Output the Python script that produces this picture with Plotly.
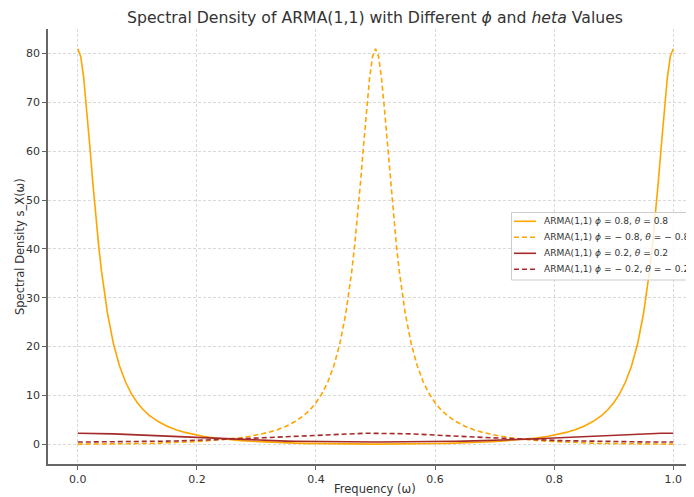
import plotly.graph_objects as go

# Frequency grid (ω)
freq = [0.0, 0.005, 0.01, 0.015, 0.02, 0.025, 0.03, 0.035, 0.04, 0.045, 0.05, 0.06, 0.07, 0.08, 0.09,
        0.10, 0.11, 0.12, 0.135, 0.15, 0.165, 0.18, 0.195, 0.21, 0.23, 0.25,
        0.27, 0.29, 0.305, 0.32, 0.335, 0.35, 0.365, 0.38, 0.39, 0.40, 0.41, 0.42, 0.43, 0.44, 0.45,
        0.455, 0.46, 0.465, 0.47, 0.475, 0.48, 0.485, 0.49, 0.495, 0.50,
        0.505, 0.51, 0.515, 0.52, 0.525, 0.53, 0.535, 0.54, 0.545, 0.55,
        0.56, 0.57, 0.58, 0.59, 0.60, 0.61, 0.62, 0.635, 0.65, 0.665, 0.68, 0.695, 0.71, 0.73, 0.75,
        0.77, 0.79, 0.805, 0.82, 0.835, 0.85, 0.865, 0.88, 0.89, 0.90,
        0.91, 0.92, 0.93, 0.94, 0.95, 0.955, 0.96, 0.965, 0.97, 0.975, 0.98, 0.985, 0.99, 0.995, 1.0]

# ARMA(1,1) phi=0.8, theta=0.8
s_pos08 = [81.0, 79.41, 75.00, 68.64, 61.34, 53.94, 46.99, 40.77, 35.34, 30.68, 26.72, 20.53, 16.06, 12.79, 10.35,
           8.491, 7.055, 5.925, 4.637, 3.689, 2.973, 2.421, 1.987, 1.641, 1.279, 1.0,
           0.7819, 0.6094, 0.5033, 0.4130, 0.3364, 0.2711, 0.2157, 0.1688, 0.1417, 0.1178, 0.09662, 0.0782, 0.0623, 0.0487, 0.0374,
           0.03259, 0.0283, 0.02453, 0.0213, 0.0185, 0.0163, 0.0146, 0.0133, 0.0126, 0.0123,
           0.0126, 0.0133, 0.0146, 0.0163, 0.0185, 0.0213, 0.02453, 0.0283, 0.03259, 0.0374,
           0.0487, 0.0623, 0.0782, 0.09662, 0.1178, 0.1417, 0.1688, 0.2157, 0.2711, 0.3364, 0.4130, 0.5033, 0.6094, 0.7819, 1.0,
           1.279, 1.641, 1.987, 2.421, 2.973, 3.689, 4.637, 5.925, 7.055, 8.491,
           10.35, 12.79, 16.06, 20.53, 26.72, 30.68, 35.34, 40.77, 46.99, 53.94, 61.34, 68.64, 75.00, 79.41, 81.0]

# ARMA(1,1) phi=-0.8, theta=-0.8
s_neg08 = [0.0123, 0.0126, 0.0133, 0.0146, 0.0163, 0.0185, 0.0213, 0.02453, 0.0283, 0.03259, 0.0374, 0.0487, 0.0623, 0.0782, 0.09662,
           0.1178, 0.1417, 0.1688, 0.2157, 0.2711, 0.3364, 0.4130, 0.5033, 0.6094, 0.7819, 1.0,
           1.279, 1.641, 1.987, 2.421, 2.973, 3.689, 4.637, 5.925, 7.055, 8.491, 10.35, 12.79, 16.06, 20.53, 26.72,
           30.68, 35.34, 40.77, 46.99, 53.94, 61.34, 68.64, 75.00, 79.41, 81.0,
           79.41, 75.00, 68.64, 61.34, 53.94, 46.99, 40.77, 35.34, 30.68, 26.72,
           20.53, 16.06, 12.79, 10.35, 8.491, 7.055, 5.925, 4.637, 3.689, 2.973, 2.421, 1.987, 1.641, 1.279, 1.0,
           0.7819, 0.6094, 0.5033, 0.4130, 0.3364, 0.2711, 0.2157, 0.1688, 0.1417, 0.1178,
           0.09662, 0.0782, 0.0623, 0.0487, 0.0374, 0.03259, 0.0283, 0.02453, 0.0213, 0.0185, 0.0163, 0.0146, 0.0133, 0.0126, 0.0123]

# ARMA(1,1) phi=0.2, theta=0.2
s_pos02 = [2.25, 2.249, 2.246, 2.241, 2.234, 2.225, 2.214, 2.202, 2.187, 2.171, 2.154, 2.113, 2.068, 2.017, 1.962,
           1.903, 1.842, 1.779, 1.682, 1.584, 1.487, 1.392, 1.300, 1.212, 1.101, 1.0,
           0.9080, 0.8254, 0.7695, 0.7185, 0.6725, 0.6312, 0.5945, 0.5620, 0.5429, 0.5254, 0.5097, 0.4958, 0.4837, 0.4732, 0.4644,
           0.4606, 0.4572, 0.4541, 0.4516, 0.4494, 0.4476, 0.4462, 0.4452, 0.4446, 0.4444,
           0.4446, 0.4452, 0.4462, 0.4476, 0.4494, 0.4516, 0.4541, 0.4572, 0.4606, 0.4644,
           0.4732, 0.4837, 0.4958, 0.5097, 0.5254, 0.5429, 0.5620, 0.5945, 0.6312, 0.6725, 0.7185, 0.7695, 0.8254, 0.9080, 1.0,
           1.101, 1.212, 1.300, 1.392, 1.487, 1.584, 1.682, 1.779, 1.842, 1.903,
           1.962, 2.017, 2.068, 2.113, 2.154, 2.171, 2.187, 2.202, 2.214, 2.225, 2.234, 2.241, 2.246, 2.249, 2.25]

# ARMA(1,1) phi=-0.2, theta=-0.2
s_neg02 = [0.4444, 0.4446, 0.4452, 0.4462, 0.4476, 0.4494, 0.4516, 0.4541, 0.4572, 0.4606, 0.4644, 0.4732, 0.4837, 0.4958, 0.5097,
           0.5254, 0.5429, 0.5620, 0.5945, 0.6312, 0.6725, 0.7185, 0.7695, 0.8254, 0.9080, 1.0,
           1.101, 1.212, 1.300, 1.392, 1.487, 1.584, 1.682, 1.779, 1.842, 1.903, 1.962, 2.017, 2.068, 2.113, 2.154,
           2.171, 2.187, 2.202, 2.214, 2.225, 2.234, 2.241, 2.246, 2.249, 2.25,
           2.249, 2.246, 2.241, 2.234, 2.225, 2.214, 2.202, 2.187, 2.171, 2.154,
           2.113, 2.068, 2.017, 1.962, 1.903, 1.842, 1.779, 1.682, 1.584, 1.487, 1.392, 1.300, 1.212, 1.101, 1.0,
           0.9080, 0.8254, 0.7695, 0.7185, 0.6725, 0.6312, 0.5945, 0.5620, 0.5429, 0.5254,
           0.5097, 0.4958, 0.4837, 0.4732, 0.4644, 0.4606, 0.4572, 0.4541, 0.4516, 0.4494, 0.4476, 0.4462, 0.4452, 0.4446, 0.4444]

series_names = [
    "ARMA(1,1) <i>ϕ</i> = 0.8, <i>θ</i> = 0.8",
    "ARMA(1,1) <i>ϕ</i> = − 0.8, <i>θ</i> = − 0.8",
    "ARMA(1,1) <i>ϕ</i> = 0.2, <i>θ</i> = 0.2",
    "ARMA(1,1) <i>ϕ</i> = − 0.2, <i>θ</i> = − 0.2",
]
series_values = [s_pos08, s_neg08, s_pos02, s_neg02]
series_colors = ["#FFA500", "#FFA500", "#A52A2A", "#A52A2A"]
series_dash = ["solid", "5px,3px", "solid", "5px,3px"]

x_ticks = [0.0, 0.2, 0.4, 0.6, 0.8, 1.0]
x_tick_labels = ["0.0", "0.2", "0.4", "0.6", "0.8", "1.0"]
y_ticks = [0, 10, 20, 30, 40, 50, 60, 70, 80]

# The page body has an 8px margin, so the figure is laid out 8px up/left
OFF = 8
W, H = 694 - OFF, 497 - OFF
ML, MR, MT, MB = 48 - OFF, 0, 29 - OFF, 497 - 464
PW, PH = W - ML - MR, H - MT - MB


def px(xp):
    """window pixel x -> paper coordinate"""
    return (xp - OFF - ML) / PW


def py(yp):
    """window pixel y -> paper coordinate"""
    return (H - MB - (yp - OFF)) / PH


fig = go.Figure()
for name, vals, col, dash in zip(series_names, series_values, series_colors, series_dash):
    fig.add_trace(go.Scatter(
        x=freq, y=vals, mode="lines", name=name, showlegend=False,
        line=dict(color=col, width=1.6, dash=dash),
    ))

font_family = "DejaVu Sans"
txt_col = "#333333"

# Legend (box + sample lines + real text)
shapes = [dict(type="rect", xref="paper", yref="paper",
               x0=px(511.5), x1=px(760), y0=py(280), y1=py(212.5),
               line=dict(color="#cccccc", width=1), fillcolor="rgba(255,255,255,0.8)", layer="above")]
annotations = []
row_y = [221.3, 237.3, 253.3, 269.3]
for name, col, dash, ry in zip(series_names, series_colors, series_dash, row_y):
    shapes.append(dict(type="line", xref="paper", yref="paper",
                       x0=px(514), x1=px(536), y0=py(ry), y1=py(ry),
                       line=dict(color=col, width=1.6, dash=dash), layer="above"))
    annotations.append(dict(text=name, xref="paper", yref="paper", x=px(541.5), y=py(ry),
                            xanchor="left", yanchor="middle", showarrow=False,
                            font=dict(size=9.1, color=txt_col, family=font_family)))

# Axis titles
annotations.append(dict(text="Frequency (ω)", xref="paper", yref="paper", x=px(375), y=py(488.5),
                        xanchor="center", yanchor="middle", showarrow=False,
                        font=dict(size=11.5, color=txt_col, family=font_family)))
annotations.append(dict(text="Spectral Density s_X(ω)", xref="paper", yref="paper", x=px(19.5), y=py(246.5),
                        xanchor="center", yanchor="middle", showarrow=False, textangle=-90,
                        font=dict(size=11.5, color=txt_col, family=font_family)))

fig.update_layout(
    width=W, height=H,
    margin=dict(l=ML, r=MR, t=MT, b=MB, pad=0),
    paper_bgcolor="white", plot_bgcolor="white",
    font=dict(family=font_family, size=11, color=txt_col),
    title=dict(
        text="Spectral Density of ARMA(1,1) with Different <i>ϕ</i> and <i>heta</i> Values",
        x=(375 - OFF) / W, xref="container", xanchor="center",
        y=1 - (17.5 - OFF) / H, yref="container", yanchor="middle",
        font=dict(size=15.7, color=txt_col, family=font_family),
    ),
    showlegend=False,
    shapes=shapes,
    annotations=annotations,
    xaxis=dict(
        range=[-0.05, 1.0348], automargin=False,
        tickvals=x_ticks, ticktext=x_tick_labels,
        showline=True, linecolor="#666666", linewidth=1.5,
        ticks="outside", ticklen=4, tickcolor="#666666", tickwidth=1,
        showgrid=True, gridcolor="#d9d9d9", gridwidth=0.8, griddash="3px,2px",
        zeroline=False, mirror=False,
        tickfont=dict(size=11, color=txt_col),
    ),
    yaxis=dict(
        range=[-4.05, 85.04], automargin=False,
        tickvals=y_ticks,
        showline=True, linecolor="#666666", linewidth=1.5,
        ticks="outside", ticklen=4, tickcolor="#666666", tickwidth=1,
        showgrid=True, gridcolor="#d9d9d9", gridwidth=0.8, griddash="3px,2px",
        zeroline=False, mirror=False,
        tickfont=dict(size=11, color=txt_col),
    ),
)

fig.write_html("out.html")
